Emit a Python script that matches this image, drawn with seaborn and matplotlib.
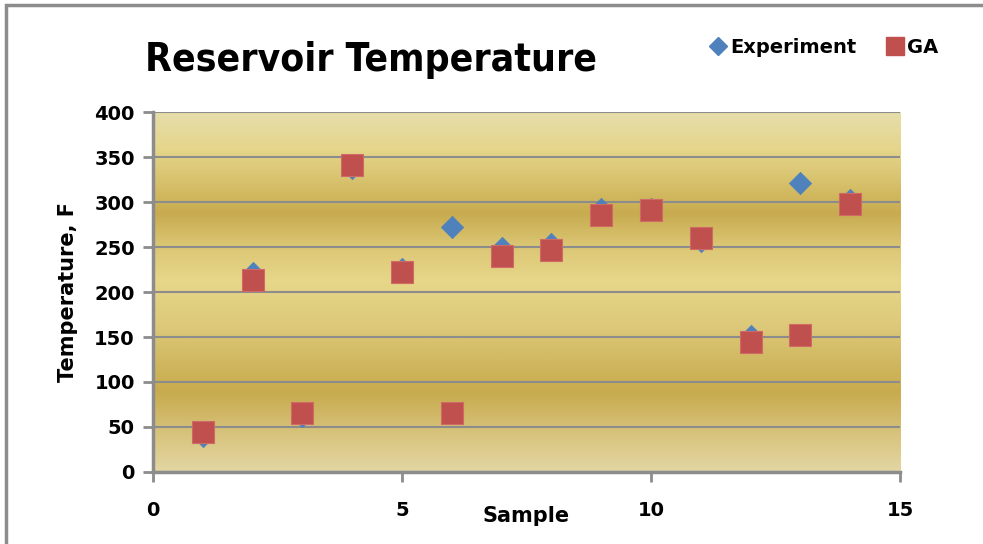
import numpy as np
import pandas as pd
import matplotlib
matplotlib.use("Agg")
import matplotlib.pyplot as plt
from matplotlib.colors import LinearSegmentedColormap
from matplotlib.lines import Line2D
from matplotlib.patches import Rectangle
import seaborn as sns

samples = [1, 2, 3, 4, 5, 6, 7, 8, 9, 10, 11, 12, 13, 14]
experiment = [40, 221, 62, 338, 226, 272, 249, 253, 292, 292, 257, 151, 321, 302]
ga = [44, 213, 66, 341, 222, 66, 240, 247, 286, 291, 260, 145, 152, 298]
x_ticks = [0, 5, 10, 15]
y_ticks = [0, 50, 100, 150, 200, 250, 300, 350, 400]

sns.set_theme(style="white")
plt.rcParams['font.family'] = ['DejaVu Sans']
plt.rcParams['text.color'] = 'black'
plt.rcParams['axes.labelcolor'] = 'black'
plt.rcParams['xtick.color'] = 'black'
plt.rcParams['ytick.color'] = 'black'

fig = plt.figure(figsize=(9.83, 5.44), dpi=100)
ax = fig.add_axes([0.1556, 0.1324, 0.7600, 0.6616])

# gold gradient background
stops = [(0.0, "#e3d6a3"), (0.10, "#d8c47e"), (0.22, "#c8ab4e"), (0.30, "#d0b75f"),
         (0.40, "#dcc878"), (0.53, "#e7d789"), (0.63, "#dbc674"), (0.72, "#c8ab4f"),
         (0.80, "#d6bf69"), (0.90, "#e5d68c"), (1.0, "#e6dda9")]
cmap = LinearSegmentedColormap.from_list("gold", stops)
grad = np.linspace(0, 1, 400).reshape(-1, 1)
ax.imshow(grad, extent=[0, 15, 0, 400], origin="lower", aspect="auto", cmap=cmap, zorder=0)

df_e = pd.DataFrame({"Sample": samples, "Temp": experiment})
df_g = pd.DataFrame({"Sample": samples, "Temp": ga})
sns.scatterplot(data=df_e, x="Sample", y="Temp", ax=ax, marker="D", s=130,
                color="#4f81bd", edgecolor="#4f81bd", linewidth=0.5, zorder=3)
sns.scatterplot(data=df_g, x="Sample", y="Temp", ax=ax, marker="s", s=240,
                color="#c0504d", edgecolor="#d06a66", linewidth=0.8, zorder=4)

ax.set_xlim(0, 15)
ax.set_ylim(0, 400)
ax.set_xticks(x_ticks)
ax.set_yticks(y_ticks)
ax.grid(axis="y", color="#8c8c8c", linewidth=1.5, zorder=1)
ax.set_axisbelow(False)
for side in ["top", "right"]:
    ax.spines[side].set_visible(False)
for side in ["left", "bottom"]:
    ax.spines[side].set_color("#8c8c8c")
    ax.spines[side].set_linewidth(2.5)
ax.tick_params(axis="both", direction="out", length=7, width=2, color="#8c8c8c",
               labelsize=14, pad=6, left=True, bottom=True, labelcolor="black")
ax.tick_params(axis="x", pad=14)
for lab in ax.get_xticklabels() + ax.get_yticklabels():
    lab.set_fontweight("bold")

ax.set_xlabel("Sample", fontsize=15, fontweight="bold", labelpad=-10)
ax.set_ylabel("Temperature, F", fontsize=15, fontweight="bold", labelpad=12)

fig.text(0.148, 0.89, "Reservoir Temperature", fontsize=28, fontweight="bold",
         fontstretch="condensed", ha="left", va="center")

handles = [Line2D([], [], marker="D", linestyle="", color="#4f81bd", markersize=9),
           Line2D([], [], marker="s", linestyle="", color="#c0504d", markersize=13)]
leg = fig.legend(handles, ["Experiment", "GA"], loc="center right", ncol=2,
                 bbox_to_anchor=(0.972, 0.913), frameon=False, handletextpad=0.1,
                 columnspacing=1.5, handlelength=1.0, prop={"weight": "bold", "size": 14})

fig.patches.append(Rectangle((0.006, -0.2), 1.5, 1.19, transform=fig.transFigure,
                             fill=False, edgecolor="#8c8c8c", linewidth=2.5))

fig.savefig("out.png", dpi=100)
